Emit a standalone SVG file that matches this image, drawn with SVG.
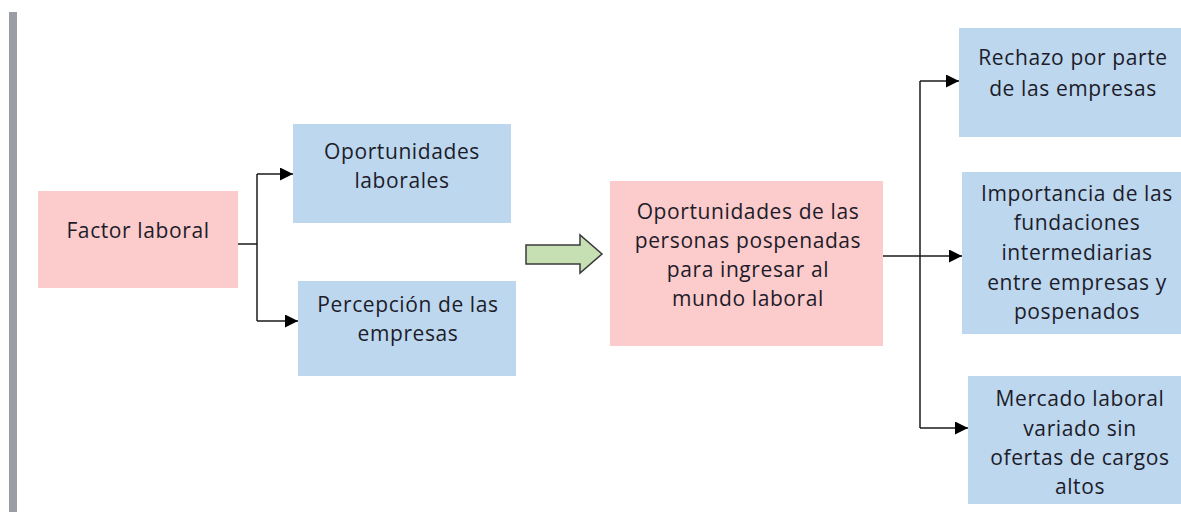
<svg xmlns="http://www.w3.org/2000/svg" width="1181" height="515" viewBox="0 0 1181 515">
<style>
.pink{fill:#fccbcb}
.blue{fill:#bdd7ee}
.t{font-family:"Open Sans","Liberation Sans",sans-serif;font-size:21px;letter-spacing:0.6px;fill:#1c1c2a;text-anchor:middle}
.c{fill:none;stroke:#1a1a1a;stroke-width:1.5}
</style>
<defs>
<marker id="ah" viewBox="0 0 10 10" refX="10" refY="5" markerWidth="15" markerHeight="13" markerUnits="userSpaceOnUse" orient="auto">
<path d="M0,0 L10,5 L0,10 z" fill="#000"/>
</marker>
</defs>
<rect width="1181" height="515" fill="#fff"/>
<rect x="9" y="12" width="8" height="500" fill="#9a9da3"/>
<g id="factor"><rect class="pink" x="38" y="191" width="200" height="97"/><text class="t" x="138" y="238">Factor laboral</text></g>
<g id="oportunidades"><rect class="blue" x="293" y="124" width="218" height="99"/><text class="t" x="402" y="159">Oportunidades</text><text class="t" x="402" y="188">laborales</text></g>
<g id="percepcion"><rect class="blue" x="298" y="281" width="218" height="95"/><text class="t" x="408" y="312">Percepción de las</text><text class="t" x="408" y="341">empresas</text></g>
<g id="centro"><rect class="pink" x="610" y="181" width="273" height="165"/><text class="t" x="748" y="219">Oportunidades de las</text><text class="t" x="748" y="248">personas pospenadas</text><text class="t" x="748" y="277">para ingresar al</text><text class="t" x="748" y="306">mundo laboral</text></g>
<g id="rechazo"><rect class="blue" x="959" y="28" width="222" height="109"/><text class="t" x="1073" y="65">Rechazo por parte</text><text class="t" x="1073" y="96">de las empresas</text></g>
<g id="importancia"><rect class="blue" x="962" y="172" width="219" height="162"/><text class="t" x="1077" y="201">Importancia de las</text><text class="t" x="1077" y="230">fundaciones</text><text class="t" x="1077" y="260">intermediarias</text><text class="t" x="1077" y="290">entre empresas y</text><text class="t" x="1077" y="319">pospenados</text></g>
<g id="mercado"><rect class="blue" x="968" y="376" width="213" height="128"/><text class="t" x="1080" y="406">Mercado laboral</text><text class="t" x="1080" y="436">variado sin</text><text class="t" x="1080" y="465">ofertas de cargos</text><text class="t" x="1080" y="494">altos</text></g>
<g id="connectors">
<path class="c" d="M238,244 H257"/>
<path class="c" d="M257,174 V321"/>
<path class="c" d="M257,174 H293" marker-end="url(#ah)"/>
<path class="c" d="M257,321 H298" marker-end="url(#ah)"/>
<path class="c" d="M883,256 H962" marker-end="url(#ah)"/>
<path class="c" d="M920,81 V428"/>
<path class="c" d="M920,81 H959" marker-end="url(#ah)"/>
<path class="c" d="M920,428 H968" marker-end="url(#ah)"/>
<path d="M526,245 H580 V235 L602,254 L580,273 V264 H526 Z" fill="#c6e0b4" stroke="#3a3a3a" stroke-width="1.5" stroke-linejoin="miter"/>
</g>
</svg>
